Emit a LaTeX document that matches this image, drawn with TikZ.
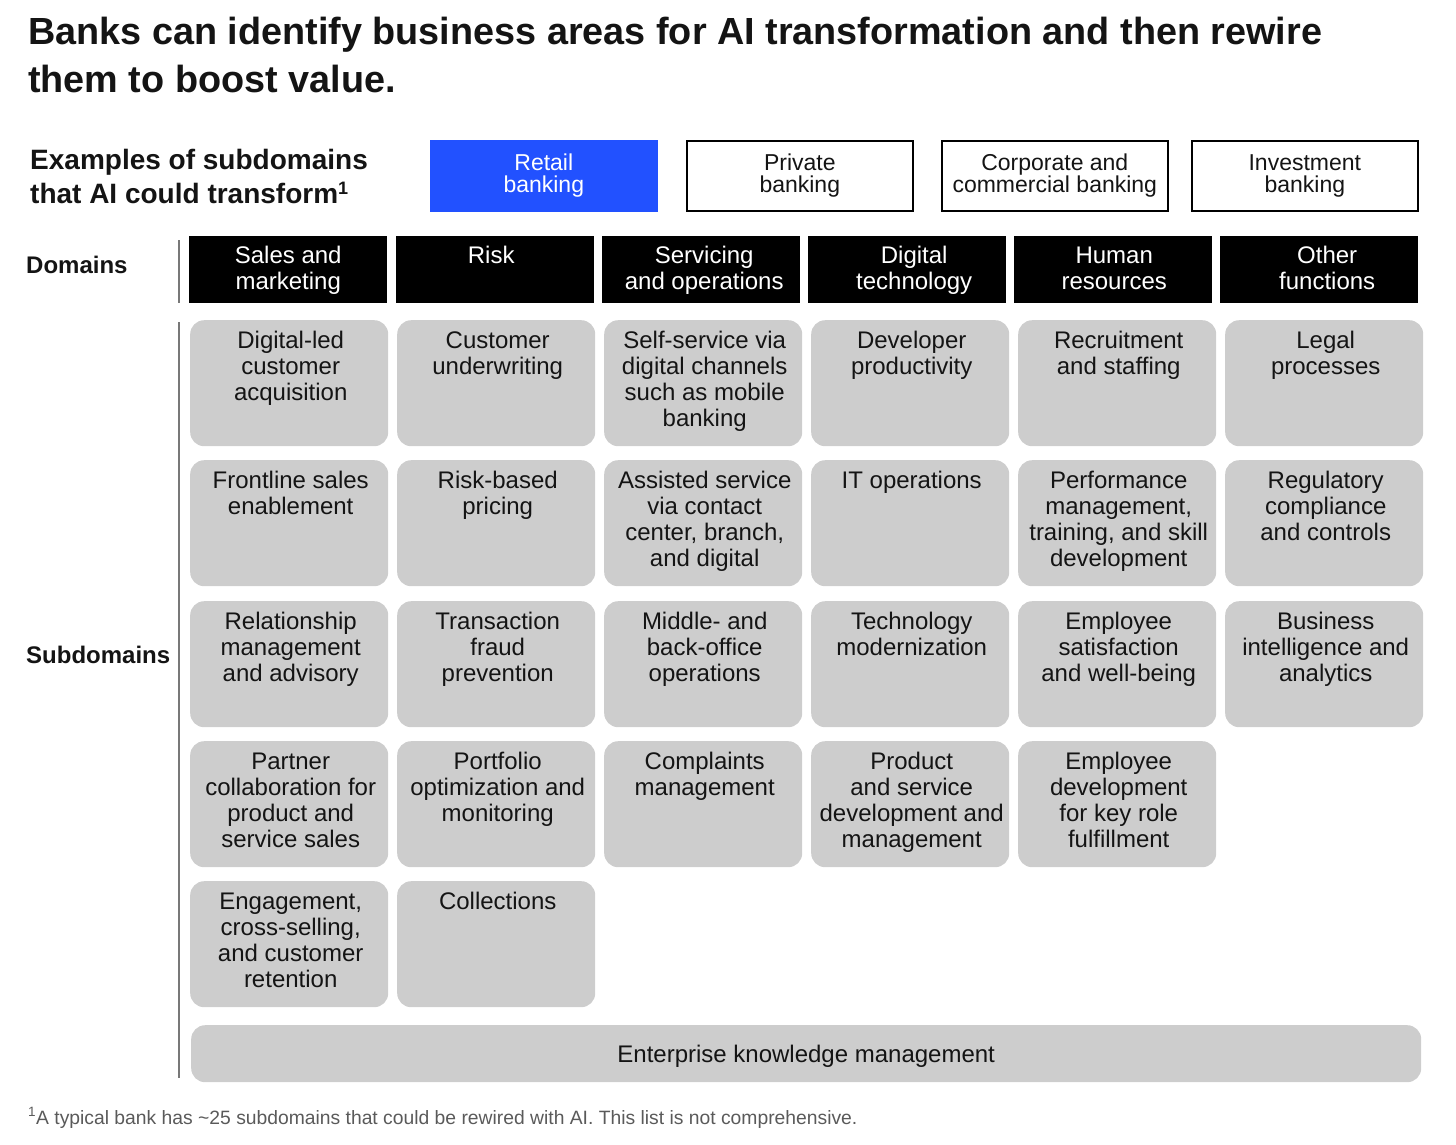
\documentclass[tikz,border=0pt]{standalone}
\usepackage{fontspec}
\setmainfont{Liberation Sans}
\definecolor{mckblue}{RGB}{34,81,255}
\definecolor{boxgray}{RGB}{205,205,205}
\definecolor{linegray}{RGB}{120,120,120}
\definecolor{notegray}{RGB}{90,90,90}
\definecolor{ink}{RGB}{20,20,20}
\newcommand\lnstrut[1]{\rule{0pt}{#1}}
\begin{document}
\begin{tikzpicture}[x=1pt,y=-1pt,
  titletext/.style={anchor=north west,inner sep=0,font=\fontsize{37.8}{48}\selectfont\bfseries,text=ink,align=left},
  rowlabel/.style={anchor=west,inner sep=0,font=\fontsize{24}{28}\selectfont\bfseries,text=ink},
  unitbox/.style={draw=black,line width=1.6pt,minimum width=226pt,minimum height=70pt,anchor=north west,inner sep=0,font=\fontsize{23}{22}\selectfont,align=center,text=ink},
  domainbox/.style={fill=black,minimum width=198pt,minimum height=67pt,anchor=north west,inner sep=0},
  domaintext/.style={anchor=north,inner sep=0,text=white,font=\fontsize{24}{26}\selectfont,align=center},
  subbox/.style={fill=boxgray,rounded corners=14pt,minimum width=198pt,minimum height=126pt,anchor=north west,inner sep=0},
  subtext/.style={anchor=north,inner sep=0,text=ink,font=\fontsize{24}{26}\selectfont,align=center},
  sepline/.style={draw=linegray,line width=1.6pt}
]
\useasboundingbox (0,0) rectangle (1456,1144);

% Title
\node[titletext] (title) at (28,14) {\lnstrut{30pt}Banks can identify business areas for AI transformation and then rewire\\them to boost value.};

% Examples heading
\node[anchor=north west,inner sep=0,font=\fontsize{28}{34}\selectfont\bfseries,text=ink,align=left] (examples) at (30,147) {\lnstrut{22pt}Examples of subdomains\\that AI could transform\textsuperscript{\fontsize{18}{18}\selectfont 1}};

% Units
\node[unitbox,fill=mckblue,draw=mckblue,text=white] (retail) at (430,140) {Retail\\banking};
\node[unitbox] (private) at (686,140) {Private\\banking};
\node[unitbox] (corporate) at (941,140) {Corporate and\\commercial banking};
\node[unitbox] (investment) at (1191,140) {Investment\\banking};

% Row labels and separators
\node[rowlabel] (domains) at (26,265) {Domains};
\node[rowlabel] (subdomains) at (26,655) {Subdomains};
\coordinate (d1) at (179,240);
\coordinate (d2) at (179,303);
\coordinate (s1) at (179,322);
\coordinate (s2) at (179,1078);
\draw[sepline] (d1) -- (d2);
\draw[sepline] (s1) -- (s2);

% Domains
\foreach \n/\x/\dx/\t in {D1/189/0/{Sales and\\marketing},D2/396/-4/{Risk},D3/602/3/{Servicing\\and operations},D4/808/7/{Digital\\technology},D5/1014/1/{Human\\resources},D6/1220/8/{Other\\functions}}{
  \node[domainbox] (\n) at (\x,236) {};
  \node[domaintext] (\n t) at ([xshift=\dx pt,yshift=-7pt]\n.north) {\lnstrut{20pt}\t};
}

% Subdomains
\foreach \n/\x/\y/\t in {
  S11/190/320/{Digital-led\\customer\\acquisition},
  S12/397/320/{Customer\\underwriting},
  S13/604/320/{Self-service via\\digital channels\\such as mobile\\banking},
  S14/811/320/{Developer\\productivity},
  S15/1018/320/{Recruitment\\and staffing},
  S16/1225/320/{Legal\\processes},
  S21/190/460/{Frontline sales\\enablement},
  S22/397/460/{Risk-based\\pricing},
  S23/604/460/{Assisted service\\via contact\\center, branch,\\and digital},
  S24/811/460/{IT operations},
  S25/1018/460/{Performance\\management,\\training, and skill\\development},
  S26/1225/460/{Regulatory\\compliance\\and controls},
  S31/190/601/{Relationship\\management\\and advisory},
  S32/397/601/{Transaction\\fraud\\prevention},
  S33/604/601/{Middle- and\\back-office\\operations},
  S34/811/601/{Technology\\modernization},
  S35/1018/601/{Employee\\satisfaction\\and well-being},
  S36/1225/601/{Business\\intelligence and\\analytics},
  S41/190/741/{Partner\\collaboration for\\product and\\service sales},
  S42/397/741/{Portfolio\\optimization and\\monitoring},
  S43/604/741/{Complaints\\management},
  S44/811/741/{Product\\and service\\development and\\management},
  S45/1018/741/{Employee\\development\\for key role\\fulfillment},
  S51/190/881/{Engagement,\\cross-selling,\\and customer\\retention},
  S52/397/881/{Collections}}{
  \node[subbox] (\n) at (\x,\y) {};
  \node[subtext] (\n t) at ([xshift=1.5pt,yshift=-8.5pt]\n.north) {\lnstrut{20pt}\t};
}

% Enterprise knowledge management
\node[subbox,minimum width=1230pt,minimum height=57pt] (ekm) at (191,1025) {};
\node[subtext,anchor=center] (ekmt) at ([yshift=-3pt]ekm.center) {Enterprise knowledge management};

% Footnote
\node[anchor=base west,inner sep=0,text=notegray,font=\fontsize{19.3}{22}\selectfont] (note) at (28,1124) {\textsuperscript{1}A typical bank has \textasciitilde 25 subdomains that could be rewired with AI. This list is not comprehensive.};
\end{tikzpicture}
\end{document}
